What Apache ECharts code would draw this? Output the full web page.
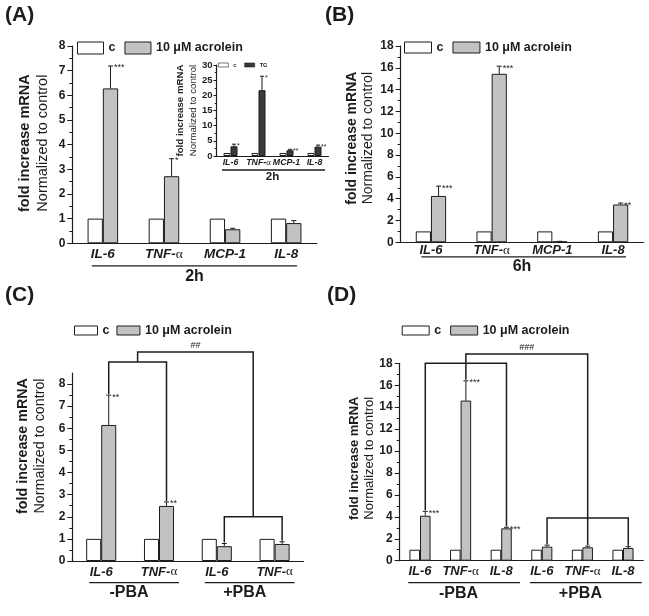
<!DOCTYPE html>
<html><head><meta charset="utf-8">
<script src="https://cdn.jsdelivr.net/npm/echarts@6/dist/echarts.min.js"></script>
<style>html,body{margin:0;padding:0;background:#fff}#c{width:649px;height:616px}</style>
</head><body><div id="c"></div>
<script>
// ---------------- DATA ----------------
const seriesNames = ['c', '10 μM acrolein'];
const insetNames = ['c', 'TG'];

// (A) 2h
const catsA = ['IL-6', 'TNF-α', 'MCP-1', 'IL-8'];
const ctrlA = [1, 1, 1, 1];
const acrA = [6.28, 2.72, 0.57, 0.82];
const errA = [7.19, 3.43, 0.61, 0.92];
const sigA = ['***', '*', '', ''];
const groupA = ['2h'];

// inset of (A), 2h TG
const catsIn = ['IL-6', 'TNF-α', 'MCP-1', 'IL-8'];
const ctrlIn = [1, 1, 1, 1];
const tgIn = [3.2, 21.7, 1.9, 3.1];
const errIn = [3.9, 26.3, 2.2, 3.6];
const sigIn = ['*', '*', '**', '**'];
const groupIn = ['2h'];

// (B) 6h
const catsB = ['IL-6', 'TNF-α', 'MCP-1', 'IL-8'];
const ctrlB = [1, 1, 1, 1];
const acrB = [4.25, 15.45, 0.07, 3.47];
const errB = [5.15, 16.15, 0.09, 3.6];
const sigB = ['***', '***', '', '**'];
const groupB = ['6h'];

// (C)
const catsC = ['IL-6', 'TNF-α', 'IL-6', 'TNF-α'];
const ctrlC = [1, 1, 1, 1];
const acrC = [6.15, 2.49, 0.67, 0.77];
const errC = [7.5, 2.67, 0.79, 0.87];
const sigC = ['**', '**', '', ''];
const groupC = ['-PBA', '+PBA'];
const ticksC = [0, 1, 2, 3, 4, 5, 6, 7, 8];

// (D)
const catsD = ['IL-6', 'TNF-α', 'IL-8', 'IL-6', 'TNF-α', 'IL-8'];
const ctrlD = [1, 1, 1, 1, 1, 1];
const acrD = [4.1, 14.6, 2.95, 1.28, 1.22, 1.16];
const errD = [4.5, 16.4, 3.05, 1.42, 1.33, 1.28];
const sigD = ['***', '***', '***', '', '', ''];
const groupD = ['-PBA', '+PBA'];

// comparison brackets: bar indices and bracket heights (axis units)
const bracketsC = [
  { from: 0, to: 1, level: 9.0 },
  { from: 2, to: 3, level: 2.0 },
  { fromBracket: 0, toBracket: 1, level: 9.45, text: '##' }
];
const bracketsD = [
  { from: 0, to: 2, level: 18.0 },
  { from: 3, to: 5, level: 3.9 },
  { from: 1, to: 4, level: 18.85, text: '###' }
];

// ---------------- STYLE ----------------
const FONT = '"Liberation Sans", Arial, sans-serif';
const INK = '#1c1c1c';
const GRAY = '#c2c2c2';
const DARK = '#3a3a3a';

const option = {
  animation: false, backgroundColor: '#fff',
  textStyle: { fontFamily: FONT },
  title: [], grid: [], xAxis: [], yAxis: [], series: [], legend: []
};

function fmtCat(val) {
  const s = String(val).split('|')[0];
  if (s.indexOf('α') >= 0) return '{b|' + s.replace('α', '') + '}{g|α}';
  return '{b|' + s + '}';
}

function errorRender(p) {
  return function (params, api) {
    const i = api.value(0), v = api.value(1), t = api.value(2);
    const band = api.size([1, 0])[0];
    const frac = parseFloat(p.barPct) / 100;
    const base = api.coord([i, v]);
    const top = api.coord([i, t]);
    const x = base[0] + band * frac / 2;
    const ch = [
      { type: 'line', shape: { x1: x, y1: base[1], x2: x, y2: top[1] }, style: { stroke: INK, lineWidth: 1 } },
      { type: 'line', shape: { x1: x - p.capW / 2, y1: top[1], x2: x + p.capW / 2, y2: top[1] }, style: { stroke: INK, lineWidth: 1 } }
    ];
    const s = p.sig[params.dataIndex];
    if (s) ch.push({ type: 'text', style: { text: s, x: x + p.capW / 2 + 1, y: top[1] + p.starDy, fontFamily: FONT, fontSize: p.starFont, fill: INK, align: 'left', verticalAlign: 'middle' } });
    return { type: 'group', children: ch };
  };
}

function decoRender(p) {
  return function (params, api) {
    const band = api.size([1, 0])[0];
    const frac = parseFloat(p.barPct) / 100;
    const y0 = api.coord([0, 0])[1];
    const cx = i => api.coord([i, 0])[0];
    const ax = i => cx(i) + band * frac / 2;
    const ch = [];
    p.groups.forEach(g => {
      const x1 = cx(g.from) + p.ulL, x2 = cx(g.to) + p.ulR;
      ch.push({ type: 'line', shape: { x1: x1, y1: y0 + p.ulDy, x2: x2, y2: y0 + p.ulDy }, style: { stroke: INK, lineWidth: 1.3 } });
      ch.push({ type: 'text', style: { text: g.text, x: (cx(g.from) + cx(g.to)) / 2 + (p.grDx || 0), y: y0 + p.grDy, align: 'center', verticalAlign: 'middle', fontFamily: FONT, fontWeight: 'bold', fontSize: p.grFont, fill: INK } });
    });
    const mids = [];
    (p.brackets || []).forEach(b => {
      let xa, xb, ya, yb;
      const yl = api.coord([0, b.level])[1];
      if (b.fromBracket !== undefined) {
        xa = mids[b.fromBracket].x; ya = mids[b.fromBracket].y;
        xb = mids[b.toBracket].x; yb = mids[b.toBracket].y;
      } else {
        xa = ax(b.from); xb = ax(b.to);
        ya = api.coord([0, p.err[b.from]])[1] - 1;
        yb = api.coord([0, p.err[b.to]])[1] - 1;
      }
      ch.push({ type: 'polyline', shape: { points: [[xa, ya], [xa, yl], [xb, yl], [xb, yb]] }, style: { stroke: INK, lineWidth: 1.5, fill: 'none' } });
      mids.push({ x: (xa + xb) / 2, y: yl });
      if (b.text) ch.push({ type: 'text', style: { text: b.text, x: (xa + xb) / 2, y: yl - 6, align: 'center', verticalAlign: 'middle', fontFamily: FONT, fontSize: 9, fill: INK } });
    });
    return { type: 'group', children: ch };
  };
}

function addPanel(p) {
  const gi = option.grid.length;
  option.grid.push(Object.assign({ containLabel: false }, p.grid));
  const lh = Math.round(p.xFont * 1.2);
  option.xAxis.push({
    type: 'category', gridIndex: gi, data: p.cats.map((c, i) => c + '|' + i),
    axisLine: { show: true, lineStyle: { color: INK, width: 1.2 } },
    axisTick: { show: false }, splitLine: { show: false },
    axisLabel: {
      interval: 0, margin: p.xMargin, formatter: fmtCat,
      rich: {
        b: { fontFamily: FONT, fontWeight: 'bold', fontStyle: 'italic', fontSize: p.xFont, lineHeight: lh, verticalAlign: 'middle', color: INK },
        g: { fontFamily: '"Liberation Serif", serif', fontSize: p.xFont, lineHeight: lh, verticalAlign: 'middle', color: INK }
      }
    }
  });
  const y = {
    type: 'value', gridIndex: gi, min: 0, max: p.ymax, interval: p.interval,
    axisLine: { show: true, lineStyle: { color: INK, width: 1.2 } },
    axisTick: { show: true, inside: false, length: p.tickLen, lineStyle: { color: INK, width: 1 } },
    minorTick: { show: true, splitNumber: 2, length: p.tickLen * 0.6, lineStyle: { color: INK, width: 1 } },
    axisLabel: { margin: p.yMargin, fontFamily: FONT, fontWeight: 'bold', fontSize: p.yFont, color: INK },
    splitLine: { show: false }, minorSplitLine: { show: false },
    name: '{a|fold increase mRNA}\n{b|Normalized to control}',
    nameLocation: 'middle', nameRotate: 90, nameGap: p.nameGap,
    nameTextStyle: {
      padding: [0, 0, 0, 2 * p.nameShift],
      rich: {
        a: { fontFamily: FONT, fontWeight: 'bold', fontSize: p.nameFont, lineHeight: p.nameLH, color: INK },
        b: { fontFamily: FONT, fontSize: p.nameFont, lineHeight: p.nameLH, color: INK }
      }
    }
  };
  if (p.ticks) {
    y.axisLabel.customValues = p.ticks;
    y.axisTick.customValues = p.ticks;
  }
  option.yAxis.push(y);
  option.series.push({
    type: 'bar', name: p.names[0], xAxisIndex: gi, yAxisIndex: gi, data: p.ctrl,
    barWidth: p.barPct, barGap: '0%', silent: true,
    itemStyle: { color: '#ffffff', borderColor: INK, borderWidth: 1 }
  });
  option.series.push({
    type: 'bar', name: p.names[1], xAxisIndex: gi, yAxisIndex: gi, data: p.trt,
    barWidth: p.barPct, barGap: '0%', silent: true,
    itemStyle: { color: p.trtColor, borderColor: INK, borderWidth: 1 }
  });
  option.series.push({
    type: 'custom', xAxisIndex: gi, yAxisIndex: gi, silent: true, z: 3,
    data: p.trt.map((v, i) => [i, v, p.err[i]]), renderItem: errorRender(p)
  });
  option.series.push({
    type: 'custom', xAxisIndex: gi, yAxisIndex: gi, silent: true, z: 4, clip: false,
    data: [[0, 0]], renderItem: decoRender(p)
  });
  option.legend.push(Object.assign({
    icon: 'rect', padding: 0, selectedMode: false, orient: 'horizontal',
    data: p.names,
    itemStyle: { borderWidth: p.legBorder, borderColor: INK },
    textStyle: { fontFamily: FONT, fontWeight: 'bold', fontSize: p.legFont, color: INK }
  }, p.legend));
}

// (A)
addPanel({
  grid: { left: 72.3, top: 46, width: 244.4, height: 197.3 },
  cats: catsA, ctrl: ctrlA, trt: acrA, err: errA, sig: sigA, names: seriesNames, trtColor: GRAY,
  ymax: 8, interval: 1, barPct: '25%', xFont: 13.5, xMargin: 3, yFont: 12, yMargin: 7, tickLen: 5,
  nameFont: 14.5, nameLH: 18.5, nameGap: 20, nameShift: 1.5,
  groups: [{ from: 0, to: 3, text: groupA[0] }], ulDy: 22.5, ulL: -11, ulR: 11, grDy: 33.5, grFont: 16,
  capW: 5, starFont: 9, starDy: 2,
  legFont: 12.5, legBorder: 1, legend: { left: 77, top: 41.5, itemWidth: 26, itemHeight: 12, itemGap: 9 }
});
// inset
addPanel({
  grid: { left: 216.5, top: 65, width: 112, height: 91 },
  cats: catsIn, ctrl: ctrlIn, trt: tgIn, err: errIn, sig: sigIn, names: insetNames, trtColor: DARK,
  ymax: 30, interval: 5, barPct: '25%', xFont: 8.8, xMargin: 1, yFont: 9.5, yMargin: 4, tickLen: 3,
  nameFont: 9.7, nameLH: 12.3, nameGap: 11.5, nameShift: 0,
  groups: [{ from: 0, to: 3, text: groupIn[0] }], ulDy: 14, ulL: -8.5, ulR: 10.5, grDy: 21, grFont: 11.5,
  capW: 4, starFont: 7, starDy: 2,
  legFont: 5.5, legBorder: 0.6, legend: { left: 218, top: 62, itemWidth: 10, itemHeight: 4, itemGap: 8 }
});
// (B)
addPanel({
  grid: { left: 400.6, top: 46, width: 242.8, height: 196.3 },
  cats: catsB, ctrl: ctrlB, trt: acrB, err: errB, sig: sigB, names: seriesNames, trtColor: GRAY,
  ymax: 18, interval: 2, barPct: '25%', xFont: 13, xMargin: 0, yFont: 12, yMargin: 7, tickLen: 5,
  nameFont: 14, nameLH: 15.5, nameGap: 25, nameShift: 6,
  groups: [{ from: 0, to: 3, text: groupB[0] }], ulDy: 14.5, ulL: -9.5, ulR: 13, grDy: 24, grFont: 16,
  capW: 5, starFont: 9, starDy: 2,
  legFont: 12.5, legBorder: 1, legend: { left: 404, top: 41, itemWidth: 27, itemHeight: 11, itemGap: 9 }
});
// (C)
addPanel({
  grid: { left: 72.3, top: 373, width: 231.2, height: 188 },
  cats: catsC, ctrl: ctrlC, trt: acrC, err: errC, sig: sigC, names: seriesNames, trtColor: GRAY,
  ymax: 8.5, interval: 1, ticks: ticksC, barPct: '26%', xFont: 13, xMargin: 3, yFont: 12, yMargin: 7, tickLen: 5,
  nameFont: 14.3, nameLH: 17.3, nameGap: 23.5, nameShift: 21,
  groups: [{ from: 0, to: 1, text: groupC[0] }, { from: 2, to: 3, text: groupC[1] }],
  ulDy: 21.7, ulL: -12, ulR: 20, grDy: 32, grFont: 16, grDx: -1,
  brackets: bracketsC,
  capW: 5, starFont: 9, starDy: 2,
  legFont: 12.5, legBorder: 1, legend: { left: 74, top: 324, itemWidth: 23, itemHeight: 9, itemGap: 7 }
});
// (D)
addPanel({
  grid: { left: 399.7, top: 363.3, width: 243.6, height: 197.4 },
  cats: catsD, ctrl: ctrlD, trt: acrD, err: errD, sig: sigD, names: seriesNames, trtColor: GRAY,
  ymax: 18, interval: 2, barPct: '26%', xFont: 13, xMargin: 3, yFont: 12, yMargin: 7, tickLen: 5,
  nameFont: 13, nameLH: 15, nameGap: 20.5, nameShift: 3.7,
  groups: [{ from: 0, to: 2, text: groupD[0] }, { from: 3, to: 5, text: groupD[1] }],
  ulDy: 22, ulL: -11.7, ulR: 18.8, grDy: 33.3, grFont: 16, grDx: -2,
  brackets: bracketsD,
  capW: 5, starFont: 9, starDy: 2,
  legFont: 12.5, legBorder: 1, legend: { left: 401.7, top: 324, itemWidth: 27, itemHeight: 9, itemGap: 9 }
});

const panelTitle = (t, l, tp) => ({ text: t, left: l, top: tp, padding: 0, textStyle: { fontFamily: FONT, fontWeight: 'bold', fontSize: 21, color: INK } });
option.title = [panelTitle('(A)', 5, 5), panelTitle('(B)', 325, 5), panelTitle('(C)', 5, 285), panelTitle('(D)', 327, 285)];

const chart = echarts.init(document.getElementById('c'), null, { renderer: 'canvas' });
chart.setOption(option);
</script>
</body></html>
